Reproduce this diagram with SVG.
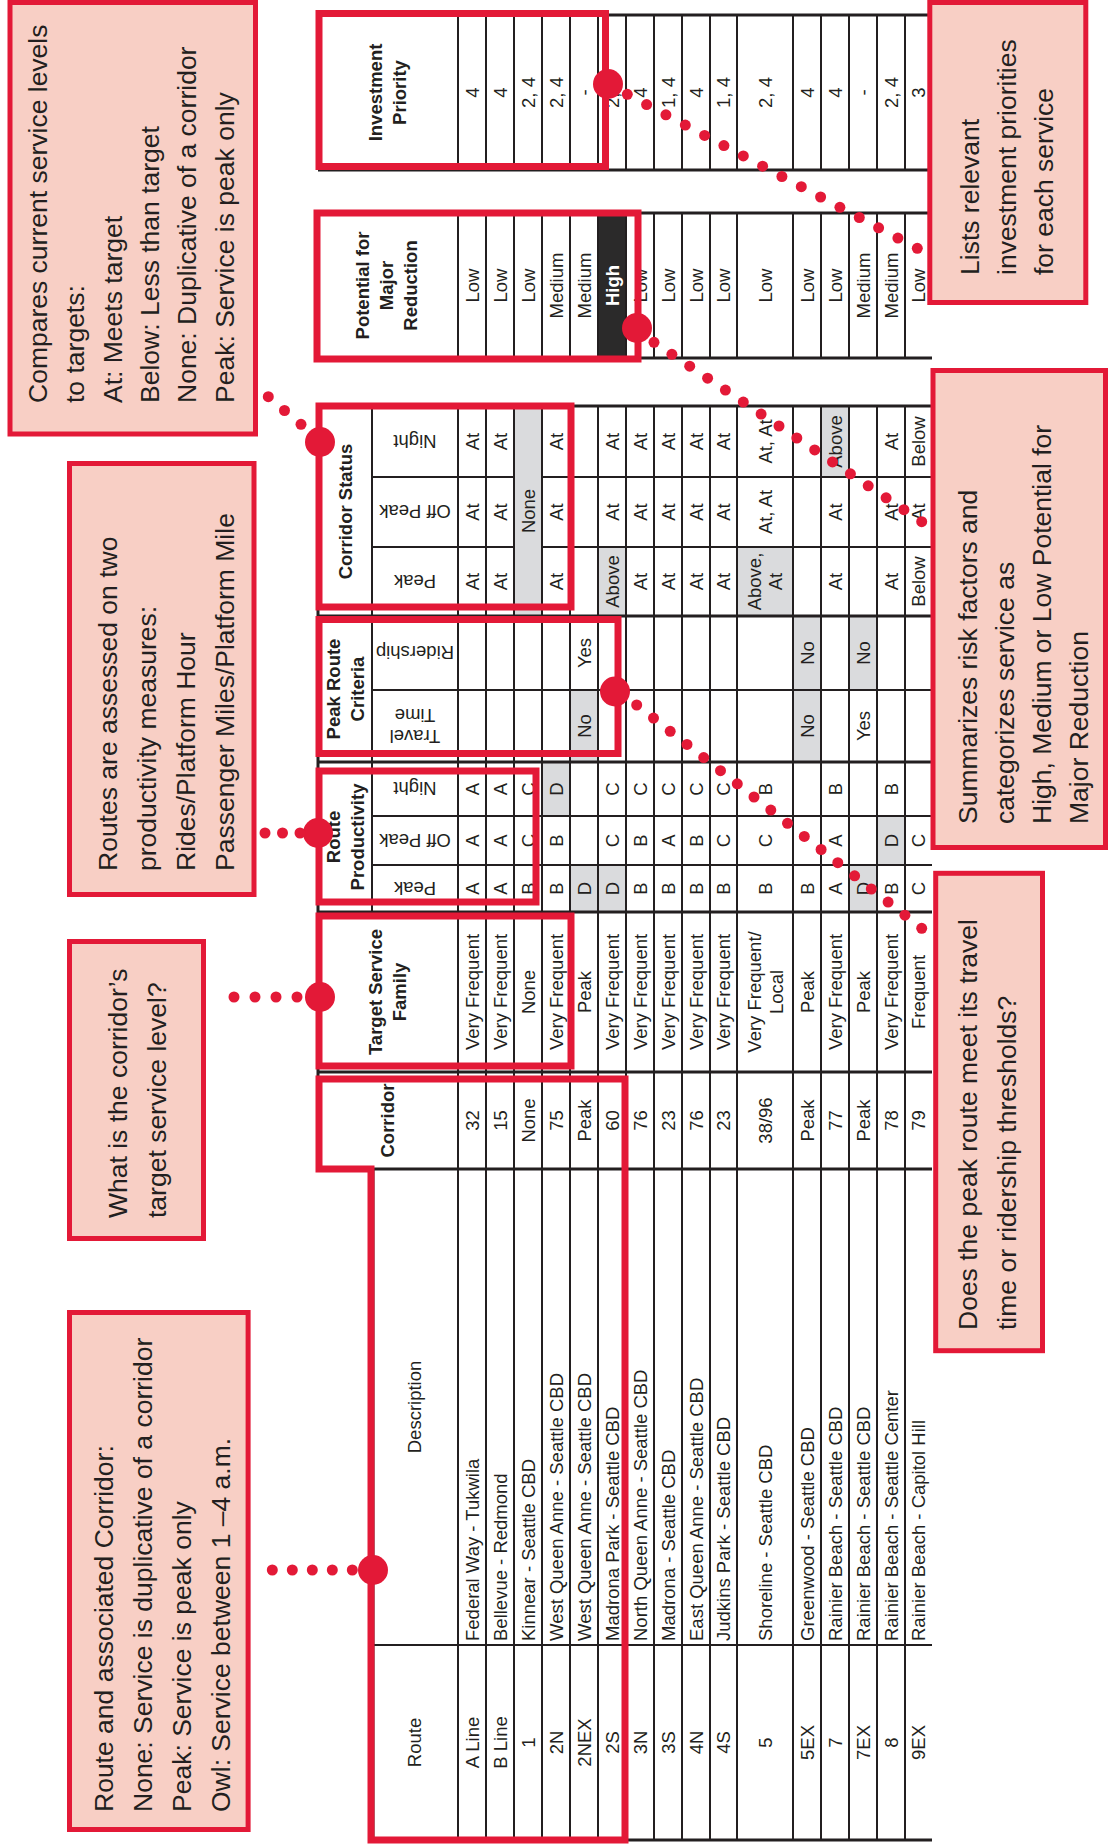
<svg xmlns="http://www.w3.org/2000/svg" width="1112" height="1845" viewBox="0 0 1112 1845">
<style>
.t{font-family:"Liberation Sans",Arial,sans-serif;font-size:18.5px;fill:#231f20;text-anchor:middle}
.s{text-anchor:start}
.b{font-weight:bold}
.w{fill:#ffffff}
.thk{stroke:#231f20;stroke-width:3;fill:none}
.thn{stroke:#231f20;stroke-width:2;fill:none}
.g{fill:#dadbdd}
.dk{fill:#2b2a2a}
.hl{fill:none;stroke:#e31937;stroke-width:7}
.nb{fill:#f8cfc5;stroke:#e31937;stroke-width:5}
.an{font-family:"Liberation Sans",Arial,sans-serif;font-size:26.5px;fill:#231f20}
.dot{fill:#e31937}
</style>
<rect x="0" y="0" width="1112" height="1845" fill="#ffffff"/>

<g id="cell-fills">
<rect class="g" x="514" y="406" width="28" height="210"/>
<rect class="g" x="542" y="762" width="28" height="54"/>
<rect class="g" x="570" y="690" width="28" height="72"/>
<rect class="g" x="570" y="865" width="28" height="47"/>
<rect class="g" x="598" y="547" width="28" height="69"/>
<rect class="g" x="598" y="865" width="28" height="47"/>
<rect class="g" x="737" y="547" width="56" height="69"/>
<rect class="g" x="793" y="616" width="28" height="146"/>
<rect class="g" x="821" y="406" width="28" height="71"/>
<rect class="g" x="849" y="616" width="28" height="74"/>
<rect class="g" x="849" y="865" width="28" height="47"/>
<rect class="g" x="877" y="816" width="28" height="49"/>
<rect class="dk" x="598" y="213" width="28" height="145"/>
</g>

<g id="table-grid">
<path class="thk" d="M318 15H932M318 170H932M318 213H932M318 358H932M318 406H932M318 616H932M318 762H932M318 912H932M318 1072H932M318 1169H932M373 1840H932"/>
<path class="thk" d="M318 15V170M318 213V358M318 406V1169M373 1169V1840"/>
<path class="thn" d="M372 477H514M542 477H932M372 547H514M542 547H932M372 690H932M372 816H932M372 865H932M373 1645H932M372 406V912"/>
<path class="thn" d="M458 15V170M486 15V170M514 15V170M542 15V170M570 15V170M598 15V170M626 15V170M654 15V170M682 15V170M710 15V170M737 15V170M793 15V170M821 15V170M849 15V170M877 15V170M905 15V170"/>
<path class="thn" d="M458 213V358M486 213V358M514 213V358M542 213V358M570 213V358M598 213V358M626 213V358M654 213V358M682 213V358M710 213V358M737 213V358M793 213V358M821 213V358M849 213V358M877 213V358M905 213V358"/>
<path class="thn" d="M458 406V1840M486 406V1840M514 406V1840M542 406V1840M570 406V1840M598 406V1840M626 406V1840M654 406V1840M682 406V1840M710 406V1840M737 406V1840M793 406V1840M821 406V1840M849 406V1840M877 406V1840M905 406V1840"/>
</g>

<g id="table-headers" transform="rotate(-90)">
<text class="t b" x="-92.5" y="382.1">Investment<tspan x="-92.5" y="405.6">Priority</tspan></text>
<text class="t b" x="-285.5" y="368.6">Potential for<tspan x="-285.5" y="392.6">Major</tspan><tspan x="-285.5" y="416.6">Reduction</tspan></text>
<text class="t b" x="-511.5" y="352.1">Corridor Status</text>
<text class="t b" x="-689" y="340.1">Peak Route<tspan x="-689" y="364.1">Criteria</tspan></text>
<text class="t b" x="-837" y="339.6">Route<tspan x="-837" y="363.6">Productivity</tspan></text>
<text class="t b" x="-992" y="382.1">Target Service<tspan x="-992" y="406.1">Family</tspan></text>
<text class="t b" x="-1120.5" y="394.1">Corridor</text>
<text class="t" x="-1407" y="421">Description</text>
<text class="t" x="-1742.5" y="421">Route</text>
</g>

<g id="sub-headers" transform="rotate(180)">
<text class="t" x="-415" y="-434.9">Night</text>
<text class="t" x="-415" y="-505.4">Off Peak</text>
<text class="t" x="-415" y="-574.9">Peak</text>
<text class="t" x="-415" y="-646.4">Ridership</text>
<text class="t" x="-415" y="-730.4">Travel<tspan x="-415" y="-709.4">Time</tspan></text>
<text class="t" x="-415" y="-782.4">Night</text>
<text class="t" x="-415" y="-833.9">Off Peak</text>
<text class="t" x="-415" y="-881.9">Peak</text>
</g>

<g id="table-data" transform="rotate(-90)">
<g id="col-investment">
<text class="t" x="-92.5" y="478.6">4</text>
<text class="t" x="-92.5" y="506.6">4</text>
<text class="t" x="-92.5" y="534.6">2, 4</text>
<text class="t" x="-92.5" y="562.6">2, 4</text>
<text class="t" x="-92.5" y="590.6">-</text>
<text class="t" x="-92.5" y="618.6">2, 4</text>
<text class="t" x="-92.5" y="646.6">4</text>
<text class="t" x="-92.5" y="674.6">1, 4</text>
<text class="t" x="-92.5" y="702.6">4</text>
<text class="t" x="-92.5" y="730.1">1, 4</text>
<text class="t" x="-92.5" y="771.6">2, 4</text>
<text class="t" x="-92.5" y="813.6">4</text>
<text class="t" x="-92.5" y="841.6">4</text>
<text class="t" x="-92.5" y="869.6">-</text>
<text class="t" x="-92.5" y="897.6">2, 4</text>
<text class="t" x="-92.5" y="925.1">3</text>
</g>
<g id="col-potential">
<text class="t" x="-285.5" y="478.6">Low</text>
<text class="t" x="-285.5" y="506.6">Low</text>
<text class="t" x="-285.5" y="534.6">Low</text>
<text class="t" x="-285.5" y="562.6">Medium</text>
<text class="t" x="-285.5" y="590.6">Medium</text>
<text class="t b w" x="-285.5" y="618.6">High</text>
<text class="t" x="-285.5" y="646.6">Low</text>
<text class="t" x="-285.5" y="674.6">Low</text>
<text class="t" x="-285.5" y="702.6">Low</text>
<text class="t" x="-285.5" y="730.1">Low</text>
<text class="t" x="-285.5" y="771.6">Low</text>
<text class="t" x="-285.5" y="813.6">Low</text>
<text class="t" x="-285.5" y="841.6">Low</text>
<text class="t" x="-285.5" y="869.6">Medium</text>
<text class="t" x="-285.5" y="897.6">Medium</text>
<text class="t" x="-285.5" y="925.1">Low</text>
</g>
<g id="col-cs-night">
<text class="t" x="-441.5" y="478.6">At</text>
<text class="t" x="-441.5" y="506.6">At</text>
<text class="t" x="-441.5" y="562.6">At</text>
<text class="t" x="-441.5" y="618.6">At</text>
<text class="t" x="-441.5" y="646.6">At</text>
<text class="t" x="-441.5" y="674.6">At</text>
<text class="t" x="-441.5" y="702.6">At</text>
<text class="t" x="-441.5" y="730.1">At</text>
<text class="t" x="-441.5" y="771.6">At, At</text>
<text class="t" x="-441.5" y="841.6">Above</text>
<text class="t" x="-441.5" y="897.6">At</text>
<text class="t" x="-441.5" y="925.1">Below</text>
</g>
<g id="col-cs-offpeak">
<text class="t" x="-512" y="478.6">At</text>
<text class="t" x="-512" y="506.6">At</text>
<text class="t" x="-511" y="534.6">None</text>
<text class="t" x="-512" y="562.6">At</text>
<text class="t" x="-512" y="618.6">At</text>
<text class="t" x="-512" y="646.6">At</text>
<text class="t" x="-512" y="674.6">At</text>
<text class="t" x="-512" y="702.6">At</text>
<text class="t" x="-512" y="730.1">At</text>
<text class="t" x="-512" y="771.6">At, At</text>
<text class="t" x="-512" y="841.6">At</text>
<text class="t" x="-512" y="897.6">At</text>
<text class="t" x="-512" y="925.1">At</text>
</g>
<g id="col-cs-peak">
<text class="t" x="-581.5" y="478.6">At</text>
<text class="t" x="-581.5" y="506.6">At</text>
<text class="t" x="-581.5" y="562.6">At</text>
<text class="t" x="-581.5" y="618.6">Above</text>
<text class="t" x="-581.5" y="646.6">At</text>
<text class="t" x="-581.5" y="674.6">At</text>
<text class="t" x="-581.5" y="702.6">At</text>
<text class="t" x="-581.5" y="730.1">At</text>
<text class="t" x="-581.5" y="761.1">Above,<tspan x="-581.5" y="782.1">At</tspan></text>
<text class="t" x="-581.5" y="841.6">At</text>
<text class="t" x="-581.5" y="897.6">At</text>
<text class="t" x="-581.5" y="925.1">Below</text>
</g>
<g id="col-prc">
<text class="t" x="-653" y="590.6">Yes</text>
<text class="t" x="-653" y="813.6">No</text>
<text class="t" x="-653" y="869.6">No</text>
<text class="t" x="-726" y="590.6">No</text>
<text class="t" x="-726" y="813.6">No</text>
<text class="t" x="-726" y="869.6">Yes</text>
</g>
<g id="col-rp-night">
<text class="t" x="-789" y="478.6">A</text>
<text class="t" x="-789" y="506.6">A</text>
<text class="t" x="-789" y="534.6">C</text>
<text class="t" x="-789" y="562.6">D</text>
<text class="t" x="-789" y="618.6">C</text>
<text class="t" x="-789" y="646.6">C</text>
<text class="t" x="-789" y="674.6">C</text>
<text class="t" x="-789" y="702.6">C</text>
<text class="t" x="-789" y="730.1">C</text>
<text class="t" x="-789" y="771.6">B</text>
<text class="t" x="-789" y="841.6">B</text>
<text class="t" x="-789" y="897.6">B</text>
</g>
<g id="col-rp-offpeak">
<text class="t" x="-840.5" y="478.6">A</text>
<text class="t" x="-840.5" y="506.6">A</text>
<text class="t" x="-840.5" y="534.6">C</text>
<text class="t" x="-840.5" y="562.6">B</text>
<text class="t" x="-840.5" y="618.6">C</text>
<text class="t" x="-840.5" y="646.6">B</text>
<text class="t" x="-840.5" y="674.6">A</text>
<text class="t" x="-840.5" y="702.6">B</text>
<text class="t" x="-840.5" y="730.1">C</text>
<text class="t" x="-840.5" y="771.6">C</text>
<text class="t" x="-840.5" y="841.6">A</text>
<text class="t" x="-840.5" y="897.6">D</text>
<text class="t" x="-840.5" y="925.1">C</text>
</g>
<g id="col-rp-peak">
<text class="t" x="-888.5" y="478.6">A</text>
<text class="t" x="-888.5" y="506.6">A</text>
<text class="t" x="-888.5" y="534.6">B</text>
<text class="t" x="-888.5" y="562.6">B</text>
<text class="t" x="-888.5" y="590.6">D</text>
<text class="t" x="-888.5" y="618.6">D</text>
<text class="t" x="-888.5" y="646.6">B</text>
<text class="t" x="-888.5" y="674.6">B</text>
<text class="t" x="-888.5" y="702.6">B</text>
<text class="t" x="-888.5" y="730.1">B</text>
<text class="t" x="-888.5" y="771.6">B</text>
<text class="t" x="-888.5" y="813.6">B</text>
<text class="t" x="-888.5" y="841.6">A</text>
<text class="t" x="-888.5" y="869.6">D</text>
<text class="t" x="-888.5" y="897.6">B</text>
<text class="t" x="-888.5" y="925.1">C</text>
</g>
<g id="col-target">
<text class="t" x="-992" y="478.6">Very Frequent</text>
<text class="t" x="-992" y="506.6">Very Frequent</text>
<text class="t" x="-992" y="534.6">None</text>
<text class="t" x="-992" y="562.6">Very Frequent</text>
<text class="t" x="-992" y="590.6">Peak</text>
<text class="t" x="-992" y="618.6">Very Frequent</text>
<text class="t" x="-992" y="646.6">Very Frequent</text>
<text class="t" x="-992" y="674.6">Very Frequent</text>
<text class="t" x="-992" y="702.6">Very Frequent</text>
<text class="t" x="-992" y="730.1">Very Frequent</text>
<text class="t" x="-992" y="760.6">Very Frequent/<tspan x="-992" y="782.6">Local</tspan></text>
<text class="t" x="-992" y="813.6">Peak</text>
<text class="t" x="-992" y="841.6">Very Frequent</text>
<text class="t" x="-992" y="869.6">Peak</text>
<text class="t" x="-992" y="897.6">Very Frequent</text>
<text class="t" x="-992" y="925.1">Frequent</text>
</g>
<g id="col-corridor">
<text class="t" x="-1120.5" y="478.6">32</text>
<text class="t" x="-1120.5" y="506.6">15</text>
<text class="t" x="-1120.5" y="534.6">None</text>
<text class="t" x="-1120.5" y="562.6">75</text>
<text class="t" x="-1120.5" y="590.6">Peak</text>
<text class="t" x="-1120.5" y="618.6">60</text>
<text class="t" x="-1120.5" y="646.6">76</text>
<text class="t" x="-1120.5" y="674.6">23</text>
<text class="t" x="-1120.5" y="702.6">76</text>
<text class="t" x="-1120.5" y="730.1">23</text>
<text class="t" x="-1120.5" y="771.6">38/96</text>
<text class="t" x="-1120.5" y="813.6">Peak</text>
<text class="t" x="-1120.5" y="841.6">77</text>
<text class="t" x="-1120.5" y="869.6">Peak</text>
<text class="t" x="-1120.5" y="897.6">78</text>
<text class="t" x="-1120.5" y="925.1">79</text>
</g>
<g id="col-description">
<text class="t s" x="-1641" y="478.6">Federal Way - Tukwila</text>
<text class="t s" x="-1641" y="506.6">Bellevue - Redmond</text>
<text class="t s" x="-1641" y="534.6">Kinnear - Seattle CBD</text>
<text class="t s" x="-1641" y="562.6">West Queen Anne - Seattle CBD</text>
<text class="t s" x="-1641" y="590.6">West Queen Anne - Seattle CBD</text>
<text class="t s" x="-1641" y="618.6">Madrona Park - Seattle CBD</text>
<text class="t s" x="-1641" y="646.6">North Queen Anne - Seattle CBD</text>
<text class="t s" x="-1641" y="674.6">Madrona - Seattle CBD</text>
<text class="t s" x="-1641" y="702.6">East Queen Anne - Seattle CBD</text>
<text class="t s" x="-1641" y="730.1">Judkins Park - Seattle CBD</text>
<text class="t s" x="-1641" y="771.6">Shoreline - Seattle CBD</text>
<text class="t s" x="-1641" y="813.6">Greenwood - Seattle CBD</text>
<text class="t s" x="-1641" y="841.6">Rainier Beach - Seattle CBD</text>
<text class="t s" x="-1641" y="869.6">Rainier Beach - Seattle CBD</text>
<text class="t s" x="-1641" y="897.6">Rainier Beach - Seattle Center</text>
<text class="t s" x="-1641" y="925.1">Rainier Beach - Capitol Hill</text>
</g>
<g id="col-route">
<text class="t" x="-1742.5" y="478.6">A Line</text>
<text class="t" x="-1742.5" y="506.6">B Line</text>
<text class="t" x="-1742.5" y="534.6">1</text>
<text class="t" x="-1742.5" y="562.6">2N</text>
<text class="t" x="-1742.5" y="590.6">2NEX</text>
<text class="t" x="-1742.5" y="618.6">2S</text>
<text class="t" x="-1742.5" y="646.6">3N</text>
<text class="t" x="-1742.5" y="674.6">3S</text>
<text class="t" x="-1742.5" y="702.6">4N</text>
<text class="t" x="-1742.5" y="730.1">4S</text>
<text class="t" x="-1742.5" y="771.6">5</text>
<text class="t" x="-1742.5" y="813.6">5EX</text>
<text class="t" x="-1742.5" y="841.6">7</text>
<text class="t" x="-1742.5" y="869.6">7EX</text>
<text class="t" x="-1742.5" y="897.6">8</text>
<text class="t" x="-1742.5" y="925.1">9EX</text>
</g>
</g>

<g id="highlights">
<rect id="hl-investment" class="hl" x="319" y="13.5" width="286.5" height="153"/>
<rect id="hl-potential" class="hl" x="317" y="213" width="321" height="146"/>
<rect id="hl-corridor-status" class="hl" x="319" y="406" width="252" height="201"/>
<rect id="hl-peak-route" class="hl" x="319" y="619.5" width="299" height="134"/>
<rect id="hl-productivity" class="hl" x="319" y="771" width="217" height="131"/>
<rect id="hl-target" class="hl" x="319" y="916" width="252" height="150"/>
<path id="hl-route" class="hl" d="M319 1079H625V1840H371V1169H319Z"/>
</g>

<g id="connectors">
<circle class="dot" cx="608" cy="84" r="15"/>
<circle class="dot" cx="627.3" cy="94.3" r="5.5"/><circle class="dot" cx="646.6" cy="104.6" r="5.5"/><circle class="dot" cx="665.9" cy="114.8" r="5.5"/><circle class="dot" cx="685.3" cy="125.1" r="5.5"/><circle class="dot" cx="704.6" cy="135.4" r="5.5"/><circle class="dot" cx="723.9" cy="145.6" r="5.5"/><circle class="dot" cx="743.3" cy="155.9" r="5.5"/><circle class="dot" cx="762.6" cy="166.2" r="5.5"/><circle class="dot" cx="781.9" cy="176.5" r="5.5"/><circle class="dot" cx="801.3" cy="186.7" r="5.5"/><circle class="dot" cx="820.6" cy="197" r="5.5"/><circle class="dot" cx="839.9" cy="207.3" r="5.5"/><circle class="dot" cx="859.3" cy="217.5" r="5.5"/><circle class="dot" cx="878.6" cy="227.8" r="5.5"/><circle class="dot" cx="897.9" cy="238.1" r="5.5"/><circle class="dot" cx="917.3" cy="248.3" r="5.5"/>
<circle class="dot" cx="637" cy="328" r="15"/>
<circle class="dot" cx="654" cy="342.3" r="5.5"/><circle class="dot" cx="671.9" cy="354.3" r="5.5"/><circle class="dot" cx="689.7" cy="366.2" r="5.5"/><circle class="dot" cx="707.6" cy="378.2" r="5.5"/><circle class="dot" cx="725.4" cy="390.1" r="5.5"/><circle class="dot" cx="743.3" cy="402.1" r="5.5"/><circle class="dot" cx="761.1" cy="414.1" r="5.5"/><circle class="dot" cx="779" cy="426" r="5.5"/><circle class="dot" cx="796.8" cy="438" r="5.5"/><circle class="dot" cx="814.7" cy="449.9" r="5.5"/><circle class="dot" cx="832.5" cy="461.9" r="5.5"/><circle class="dot" cx="850.4" cy="473.8" r="5.5"/><circle class="dot" cx="868.2" cy="485.8" r="5.5"/><circle class="dot" cx="886.1" cy="497.8" r="5.5"/><circle class="dot" cx="903.9" cy="509.7" r="5.5"/><circle class="dot" cx="921.7" cy="521.7" r="5.5"/>
<circle class="dot" cx="320" cy="442" r="15"/>
<circle class="dot" cx="268.3" cy="396.7" r="5.5"/><circle class="dot" cx="284.5" cy="410.5" r="5.5"/><circle class="dot" cx="301" cy="424.3" r="5.5"/>
<circle class="dot" cx="615" cy="691.5" r="15"/>
<circle class="dot" cx="636.7" cy="705" r="5.5"/><circle class="dot" cx="653.5" cy="718.1" r="5.5"/><circle class="dot" cx="670.2" cy="731.3" r="5.5"/><circle class="dot" cx="687" cy="744.4" r="5.5"/><circle class="dot" cx="703.7" cy="757.6" r="5.5"/><circle class="dot" cx="720.5" cy="770.7" r="5.5"/><circle class="dot" cx="737.3" cy="783.8" r="5.5"/><circle class="dot" cx="754" cy="797" r="5.5"/><circle class="dot" cx="770.8" cy="810.1" r="5.5"/><circle class="dot" cx="787.5" cy="823.3" r="5.5"/><circle class="dot" cx="804.3" cy="836.4" r="5.5"/><circle class="dot" cx="821.1" cy="849.5" r="5.5"/><circle class="dot" cx="837.8" cy="862.7" r="5.5"/><circle class="dot" cx="854.6" cy="875.8" r="5.5"/><circle class="dot" cx="871.3" cy="889" r="5.5"/><circle class="dot" cx="888.1" cy="902.1" r="5.5"/><circle class="dot" cx="904.9" cy="915.2" r="5.5"/><circle class="dot" cx="921.7" cy="928.3" r="5.5"/>
<circle class="dot" cx="318" cy="833" r="15"/>
<circle class="dot" cx="265" cy="833" r="5.5"/><circle class="dot" cx="282.5" cy="833" r="5.5"/><circle class="dot" cx="300" cy="833" r="5.5"/>
<circle class="dot" cx="320" cy="997" r="15"/>
<circle class="dot" cx="234" cy="997" r="5.5"/><circle class="dot" cx="255" cy="997" r="5.5"/><circle class="dot" cx="276" cy="997" r="5.5"/><circle class="dot" cx="297" cy="997" r="5.5"/>
<circle class="dot" cx="373" cy="1570" r="15"/>
<circle class="dot" cx="272.3" cy="1570" r="5.5"/><circle class="dot" cx="292.3" cy="1570" r="5.5"/><circle class="dot" cx="312.3" cy="1570" r="5.5"/><circle class="dot" cx="332.3" cy="1570" r="5.5"/><circle class="dot" cx="352.3" cy="1570" r="5.5"/>
</g>

<g id="note-corridor-status">
<rect class="nb" x="10" y="2.5" width="245.5" height="431.5"/>
<text class="an" transform="rotate(-90)" x="-403" y="47">Compares current service levels<tspan x="-403" dy="37.3">to targets:</tspan><tspan x="-403" dy="37.3">At: Meets target</tspan><tspan x="-403" dy="37.3">Below: Less than target</tspan><tspan x="-403" dy="37.3">None: Duplicative of a corridor</tspan><tspan x="-403" dy="37.3">Peak: Service is peak only</tspan></text>
</g>
<g id="note-productivity">
<rect class="nb" x="69.5" y="463.5" width="184.5" height="431"/>
<text class="an" transform="rotate(-90)" x="-871" y="116.5">Routes are assessed on two<tspan x="-871" dy="39">productivity measures:</tspan><tspan x="-871" dy="39">Rides/Platform Hour</tspan><tspan x="-871" dy="39">Passenger Miles/Platform Mile</tspan></text>
</g>
<g id="note-target">
<rect class="nb" x="69.5" y="941.5" width="134" height="297"/>
<text class="an" transform="rotate(-90)" x="-1218" y="127.2">What is the corridor’s<tspan x="-1218" dy="39">target service level?</tspan></text>
</g>
<g id="note-route">
<rect class="nb" x="69.5" y="1312.5" width="178.6" height="517"/>
<text class="an" transform="rotate(-90)" x="-1812" y="113">Route and associated Corridor:<tspan x="-1812" dy="39">None: Service is duplicative of a corridor</tspan><tspan x="-1812" dy="39">Peak: Service is peak only</tspan><tspan x="-1812" dy="39">Owl: Service between 1 –4 a.m.</tspan></text>
</g>
<g id="note-investment">
<rect class="nb" x="929.8" y="2.5" width="156" height="300"/>
<text class="an" transform="rotate(-90)" x="-275" y="978.5">Lists relevant<tspan x="-275" dy="37">investment priorities</tspan><tspan x="-275" dy="37">for each service</tspan></text>
</g>
<g id="note-potential">
<rect class="nb" x="933" y="370.5" width="172.5" height="477"/>
<text class="an" transform="rotate(-90)" x="-824" y="976.5">Summarizes risk factors and<tspan x="-824" dy="37">categorizes service as</tspan><tspan x="-824" dy="37">High, Medium or Low Potential for</tspan><tspan x="-824" dy="37">Major Reduction</tspan></text>
</g>
<g id="note-peak-route">
<rect class="nb" x="935.7" y="873.3" width="106.8" height="477.4"/>
<text class="an" transform="rotate(-90)" x="-1330" y="976.8">Does the peak route meet its travel<tspan x="-1330" dy="38.7">time or ridership thresholds?</tspan></text>
</g>
</svg>
